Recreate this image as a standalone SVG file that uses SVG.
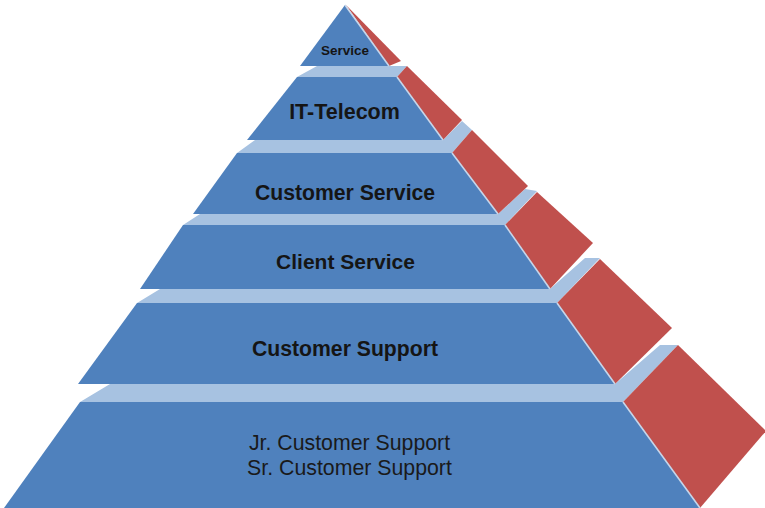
<svg xmlns="http://www.w3.org/2000/svg" width="765" height="508" viewBox="0 0 765 508">
<style>
.front{fill:#4f81bd}
.side{fill:#c0504d}
.top{fill:#a7c2e1}
.edge{stroke:#c6d6ea;stroke-width:1.6;fill:none}
.lbl{font-family:"Liberation Sans",Arial,sans-serif;font-weight:bold;fill:#151515;text-anchor:middle}
.lbl2{font-family:"Liberation Sans",Arial,sans-serif;fill:#1a1a1a;text-anchor:middle}
</style>
<rect width="765" height="508" fill="#ffffff"/>
<g id="level6">
<polygon class="top" points="80,402 110,384 615,384 660,345 678,345 623,402"/>
<polygon class="front" points="80,402 623,402 700,508 4,508"/>
<polygon class="side" points="623,402 678,345 766,431 700,508"/>
<line class="edge" x1="623" y1="402" x2="700" y2="508"/>
<text class="lbl2" x="349.5" y="450" font-size="21.3">Jr. Customer Support</text>
<text class="lbl2" x="349.5" y="475" font-size="21.3">Sr. Customer Support</text>
</g>
<g id="level5">
<polygon class="top" points="137,303 160,289 550,289 585,258 600,258 557,303"/>
<polygon class="front" points="137,303 557,303 615,384 78,384"/>
<polygon class="side" points="557,303 600,259 672,328 615,384"/>
<line class="edge" x1="557" y1="303" x2="615" y2="384"/>
<text class="lbl" x="345" y="355.5" font-size="21.2">Customer Support</text>
</g>
<g id="level4">
<polygon class="top" points="183,225 200,214 498,214 525,189 537,191 505,225"/>
<polygon class="front" points="183,225 505,225 550,289 140,289"/>
<polygon class="side" points="505,225 537,192 593,243 550,289"/>
<line class="edge" x1="505" y1="225" x2="550" y2="289"/>
<text class="lbl" x="345.5" y="268.5" font-size="21">Client Service</text>
</g>
<g id="level3">
<polygon class="top" points="237,153 255,140 443,140 462,121 472,130 452,153"/>
<polygon class="front" points="237,153 452,153 498,214 193,214"/>
<polygon class="side" points="452,153 472,130 528,186 498,214"/>
<line class="edge" x1="452" y1="153" x2="498" y2="214"/>
<text class="lbl" x="345" y="199.5" font-size="21.2">Customer Service</text>
</g>
<g id="level2">
<polygon class="top" points="297,77 317,66 389,66 407,66 397,77"/>
<polygon class="front" points="297,77 397,77 443,140 247,140"/>
<polygon class="side" points="397,77 407,66 462,120 443,140"/>
<line class="edge" x1="397" y1="77" x2="443" y2="140"/>
<text class="lbl" x="344.5" y="119" font-size="21.5">IT-Telecom</text>
</g>
<g id="level1">
<polygon class="front" points="345,5 389,66 300,66"/>
<polygon class="side" points="346,5 401,61 389,66"/>
<line class="edge" x1="345" y1="5" x2="389" y2="66"/>
<text class="lbl" x="345" y="55" font-size="13.5">Service</text>
</g>
</svg>
